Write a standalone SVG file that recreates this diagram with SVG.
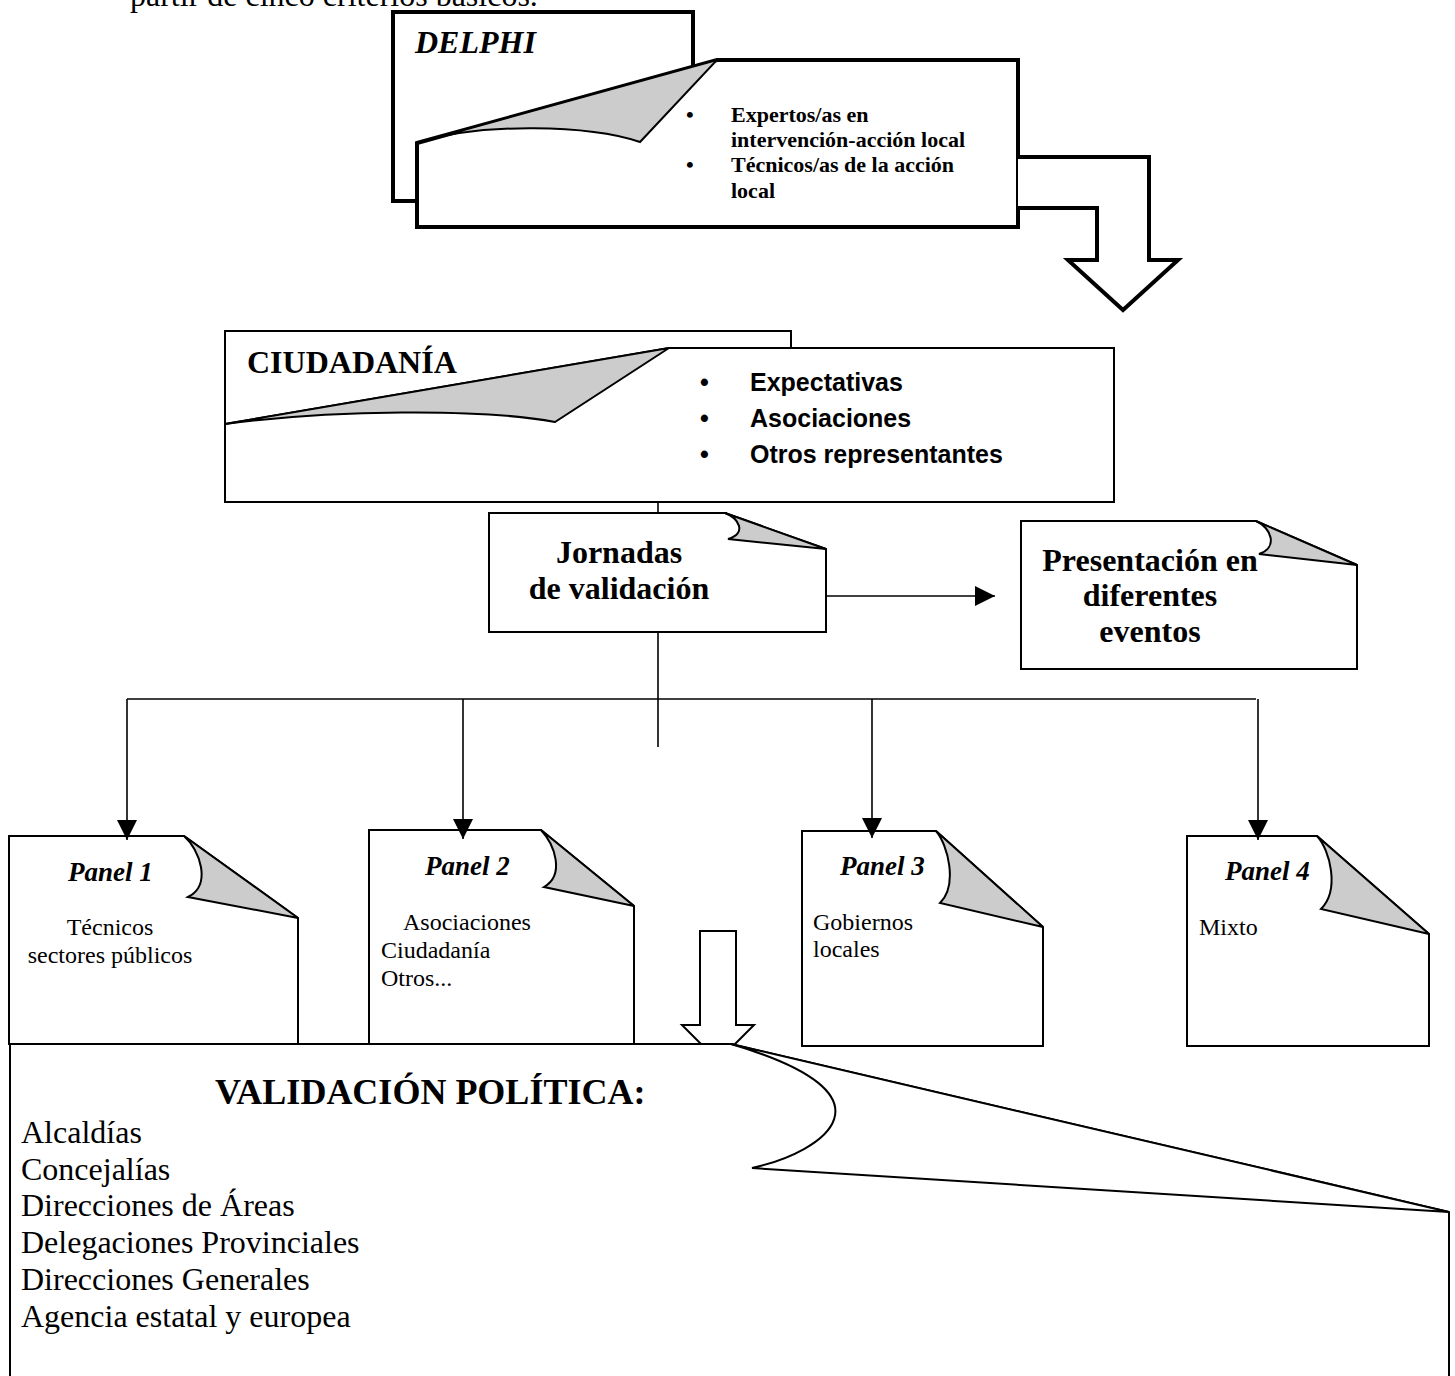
<svg xmlns="http://www.w3.org/2000/svg" width="1455" height="1376" viewBox="0 0 1455 1376">
<defs>
<style>
.shape{fill:#fff;stroke:#000;stroke-width:2;stroke-linejoin:miter}
.thick{fill:#fff;stroke:#000;stroke-width:4;stroke-linejoin:miter}
.curl{fill:#ccc;stroke:#000;stroke-width:2;stroke-linejoin:miter}
.curlw{fill:#fff;stroke:#000;stroke-width:2;stroke-linejoin:miter}
.conn{fill:none;stroke:#000;stroke-width:1.6}
.serif{font-family:"Liberation Serif","Times New Roman",serif;fill:#000}
.sans{font-family:"Liberation Sans",Arial,sans-serif;fill:#000}
.b{font-weight:bold}
.i{font-style:italic}
</style>
<marker id="ah" viewBox="0 0 20 20" refX="20" refY="10" markerWidth="20" markerHeight="20" markerUnits="userSpaceOnUse" orient="auto"><path d="M0,0 L20,10 L0,20 Z" fill="#000"/></marker>
</defs>
<rect x="0" y="0" width="1455" height="1376" fill="#fff"/>

<text class="serif" x="130" y="6" font-size="32">partir de  cinco criterios básicos.</text>

<g id="delphi">
  <rect class="thick" x="393" y="12" width="300" height="189"/>
  <path class="thick" d="M417,143 L717,60 L1018,60 L1018,227 L417,227 Z"/>
  <path class="curl" stroke-width="2.5" d="M417,143 L717,60 L640,142 C590,125 480,122 417,143 Z"/>
  <text class="serif b i" x="415" y="53" font-size="32">DELPHI</text>
  <g class="serif b" font-size="22">
    <text x="686" y="122">•</text>
    <text x="731" y="122">Expertos/as en</text>
    <text x="731" y="147">intervención-acción  local</text>
    <text x="686" y="172">•</text>
    <text x="731" y="172">Técnicos/as de la acción</text>
    <text x="731" y="198">local</text>
  </g>
</g>

<g id="ciudadania">
  <rect class="shape" x="225" y="331" width="566" height="170"/>
  <path class="shape" d="M225,424 L669,348 L1114,348 L1114,502 L225,502 Z"/>
  <path class="curl" d="M225,424 L669,348 L555,422 C480,408 330,410 225,424 Z"/>
  <text class="serif b" x="247" y="373" font-size="32">CIUDADANÍA</text>
  <g class="sans b" font-size="25">
    <text x="700" y="391">•</text>
    <text x="750" y="391">Expectativas</text>
    <text x="700" y="427">•</text>
    <text x="750" y="427">Asociaciones</text>
    <text x="700" y="463">•</text>
    <text x="750" y="463">Otros representantes</text>
  </g>
</g>

<g id="jornadas">
  <path class="shape" d="M489,513 L725,513 L826,549 L826,632 L489,632 Z"/>
  <path class="curl" d="M725,513 C738,518 748,533 728,539 L826,549 Z"/>
  <text class="serif b" x="619" y="563" font-size="32" text-anchor="middle">Jornadas</text>
  <text class="serif b" x="619" y="599" font-size="32" text-anchor="middle">de validación</text>
</g>

<g id="presentacion">
  <path class="shape" d="M1021,521 L1256,521 L1357,565 L1357,669 L1021,669 Z"/>
  <path class="curl" d="M1256,521 C1272,528 1278,548 1259,554 L1357,565 Z"/>
  <text class="serif b" x="1150" y="571" font-size="32" text-anchor="middle">Presentación en</text>
  <text class="serif b" x="1150" y="606" font-size="32" text-anchor="middle">diferentes</text>
  <text class="serif b" x="1150" y="642" font-size="32" text-anchor="middle">eventos</text>
</g>

<g id="panel1">
  <path class="shape" d="M9,836 L184,836 L298,918 L298,1044 L9,1044 Z"/>
  <path class="curl" d="M184,836 C200,850 212,885 188,897 L298,918 Z"/>
  <text class="serif b i" x="68" y="881" font-size="27">Panel 1</text>
  <text class="serif" x="110" y="935" font-size="24" text-anchor="middle">Técnicos</text>
  <text class="serif" x="110" y="963" font-size="24" text-anchor="middle">sectores públicos</text>
</g>

<g id="panel2">
  <path class="shape" d="M369,830 L541,830 L634,906 L634,1044 L369,1044 Z"/>
  <path class="curl" d="M541,830 C555,845 565,875 544,887 L634,906 Z"/>
  <text class="serif b i" x="425" y="875" font-size="27">Panel 2</text>
  <text class="serif" x="403" y="930" font-size="24">Asociaciones</text>
  <text class="serif" x="381" y="958" font-size="24">Ciudadanía</text>
  <text class="serif" x="381" y="986" font-size="24">Otros...</text>
</g>

<g id="panel3">
  <path class="shape" d="M802,831 L936,831 L1043,927 L1043,1046 L802,1046 Z"/>
  <path class="curl" d="M936,831 C948,845 958,885 940,903 L1043,927 Z"/>
  <text class="serif b i" x="840" y="875" font-size="27">Panel 3</text>
  <text class="serif" x="813" y="930" font-size="24">Gobiernos</text>
  <text class="serif" x="813" y="957" font-size="24">locales</text>
</g>

<g id="panel4">
  <path class="shape" d="M1187,836 L1317,836 L1429,934 L1429,1046 L1187,1046 Z"/>
  <path class="curl" stroke-width="1.2" d="M1317,836 C1330,850 1340,890 1321,909 L1429,934 Z"/>
  <text class="serif b i" x="1225" y="880" font-size="27">Panel 4</text>
  <text class="serif" x="1199" y="935" font-size="24">Mixto</text>
</g>

<g id="connectors">
  <path class="thick" d="M1018,157 L1149,157 L1149,260 L1178,260 L1123,310 L1068,260 L1097,260 L1097,208 L1018,208"/>
  <line class="conn" x1="658" y1="501" x2="658" y2="513"/>
  <line class="conn" x1="658" y1="632" x2="658" y2="747"/>
  <line class="conn" x1="826" y1="596" x2="995" y2="596" marker-end="url(#ah)"/>
  <line class="conn" x1="127" y1="699" x2="1256" y2="699"/>
  <line class="conn" x1="127" y1="699" x2="127" y2="840" marker-end="url(#ah)"/>
  <line class="conn" x1="463" y1="699" x2="463" y2="839" marker-end="url(#ah)"/>
  <line class="conn" x1="872" y1="699" x2="872" y2="838" marker-end="url(#ah)"/>
  <line class="conn" x1="1258" y1="699" x2="1258" y2="840" marker-end="url(#ah)"/>
  <path class="shape" d="M700,931 L736,931 L736,1025 L754,1025 L718,1061 L682,1025 L700,1025 Z"/>
</g>

<g id="validacion">
  <path class="shape" d="M10,1380 L10,1044 L731,1044 L1449,1212 L1449,1380"/>
  <path class="curlw" d="M731,1044 L1449,1212 L752,1168 C825,1152 905,1095 731,1044 Z"/>
  <text class="serif b" x="215" y="1104" font-size="36">VALIDACIÓN POLÍTICA:</text>
  <g class="serif" font-size="32">
    <text x="21" y="1143">Alcaldías</text>
    <text x="21" y="1180">Concejalías</text>
    <text x="21" y="1216">Direcciones de Áreas</text>
    <text x="21" y="1253">Delegaciones Provinciales</text>
    <text x="21" y="1290">Direcciones Generales</text>
    <text x="21" y="1327">Agencia estatal y europea</text>
  </g>
</g>
</svg>
